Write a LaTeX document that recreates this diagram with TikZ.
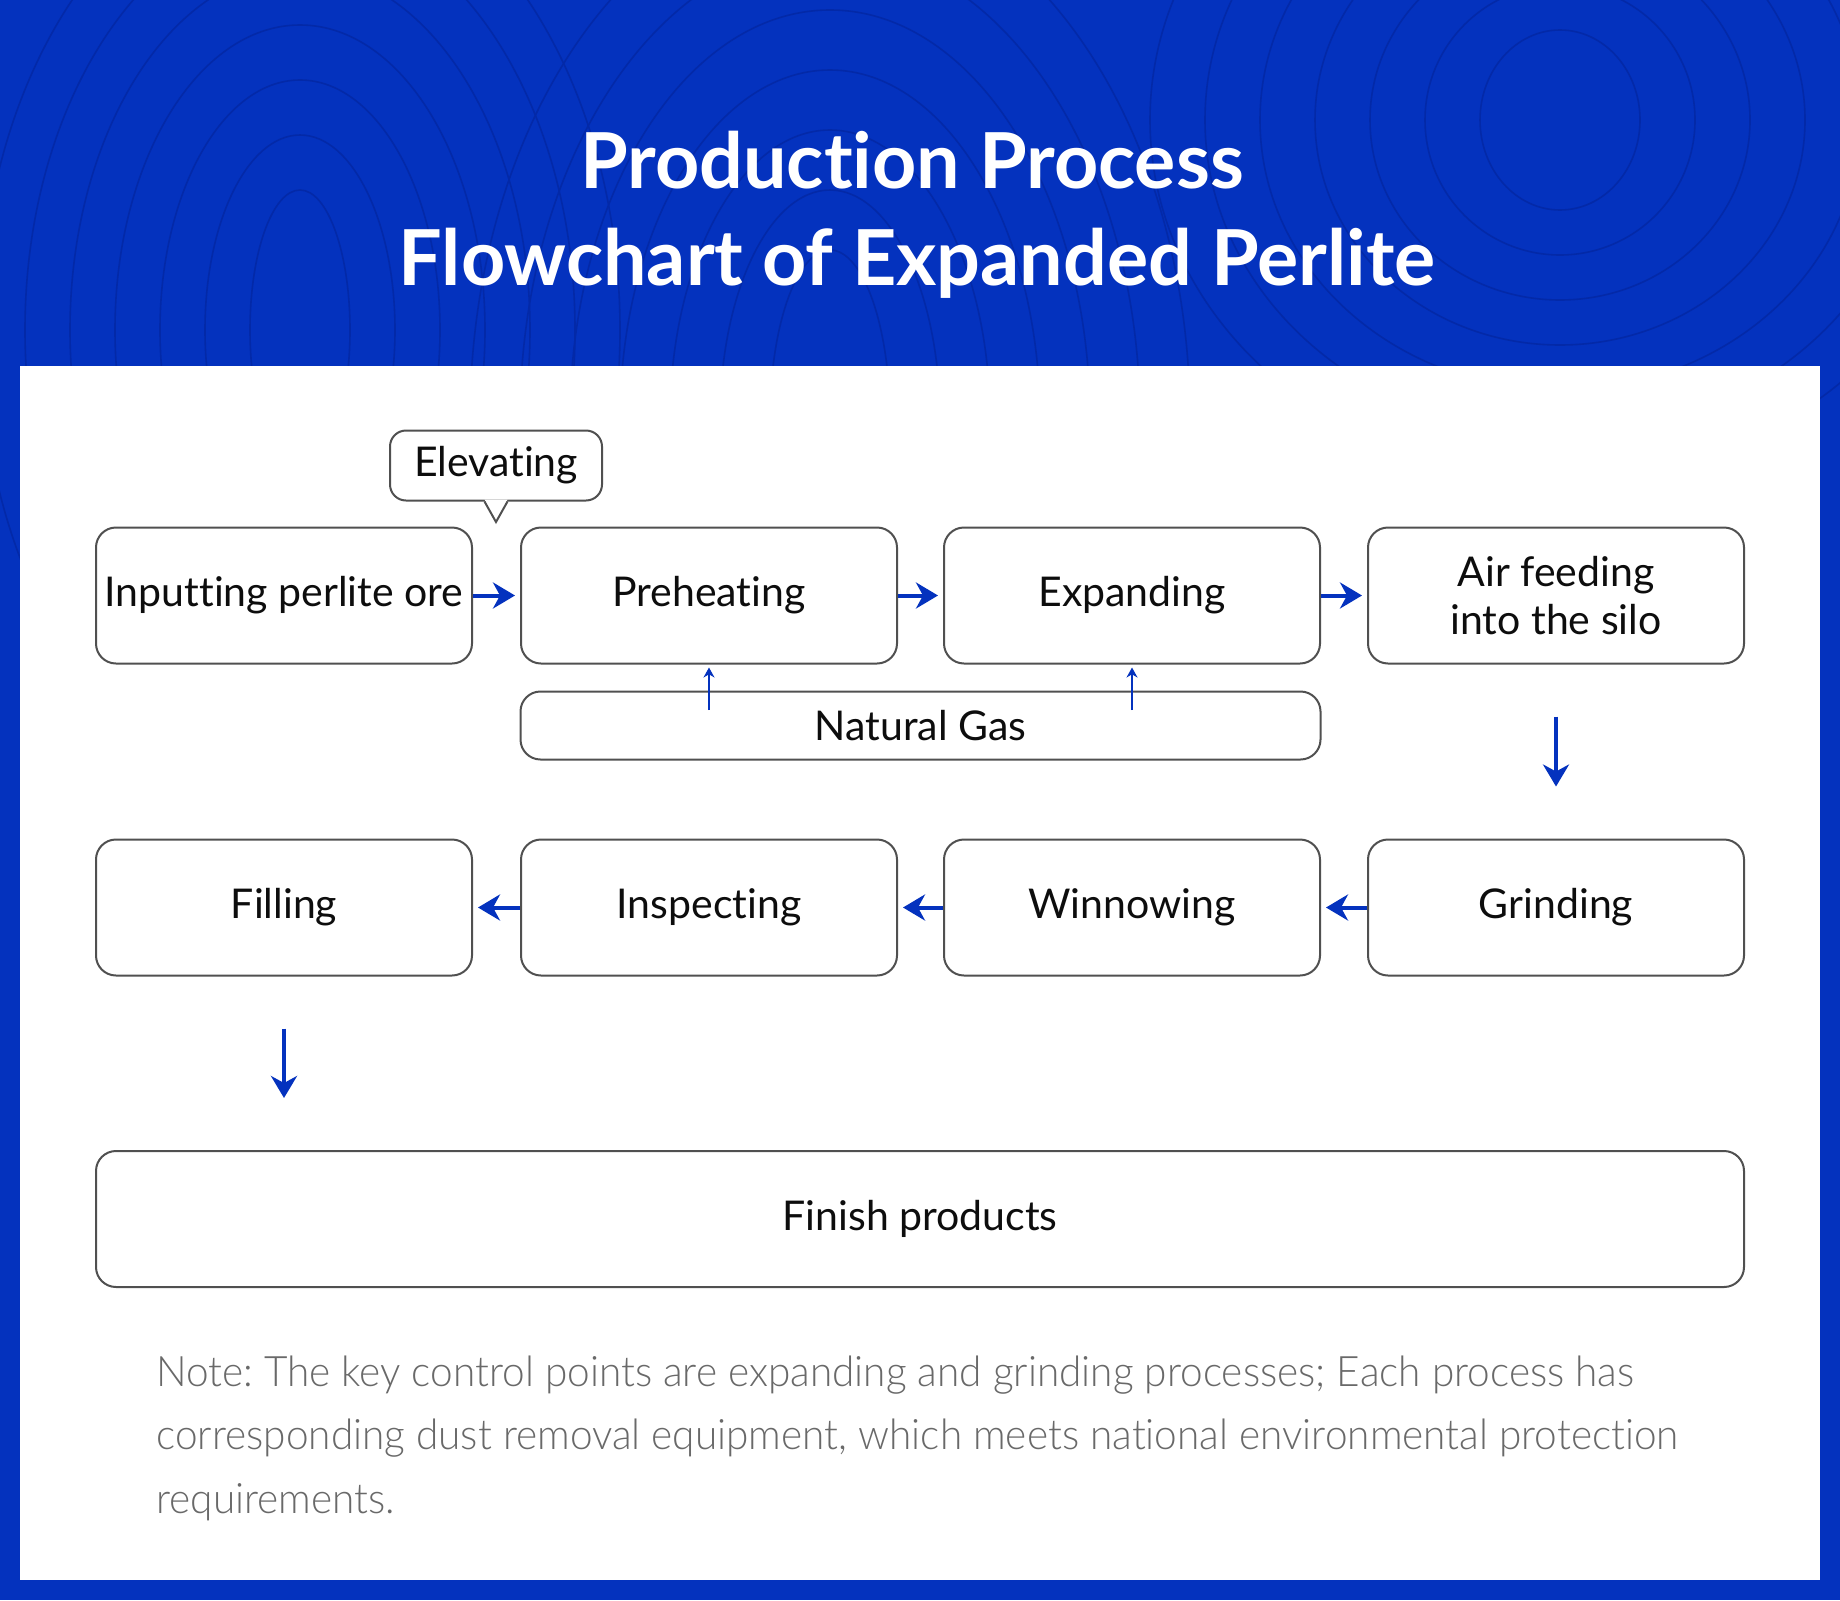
\documentclass[tikz,border=0pt]{standalone}
\usepackage{fontspec}
\setmainfont{Lato}[Ligatures={NoCommon,NoContextual,NoRequired}, Contextuals=NoAlternate]
\newfontfamily\notefont{Lato Light}[FakeStretch=0.965, Ligatures={NoCommon,NoContextual,NoRequired}, Contextuals=NoAlternate]
\usetikzlibrary{arrows.meta, positioning, calc}
\definecolor{brandblue}{RGB}{4,50,190}
\definecolor{contourblue}{RGB}{3,41,168}
\definecolor{boxgray}{RGB}{80,80,80}
\definecolor{notegray}{RGB}{105,105,105}
\frenchspacing
\tikzset{
    procbox/.style={draw=boxgray, line width=1pt, rounded corners=10pt, fill=white,
        minimum width=188pt, minimum height=68pt, inner sep=0pt, align=center,
        font=\fontsize{20.5}{24}\selectfont, text=black!95},
    gasbox/.style={procbox, minimum width=400pt, minimum height=34pt},
    calloutbox/.style={procbox, rounded corners=8pt, minimum width=106pt, minimum height=35pt},
    flowarr/.style={brandblue, line width=2pt, -{Stealth[length=11pt,width=13pt,inset=3.5pt]}},
    gasarr/.style={brandblue, line width=1.2pt, -{Stealth[length=5pt,width=5.5pt]}},
    contour/.style={contourblue, line width=0.8pt},
    titletext/.style={text=white, inner sep=0pt, font=\fontsize{38.6}{46}\selectfont\bfseries},
    notetext/.style={text=notegray, inner sep=0pt, font=\notefont\fontsize{21}{31.5}\selectfont}
}
\begin{document}
\begin{tikzpicture}[x=0.5pt, y=-0.5pt]
    \useasboundingbox (0,0) rectangle (1840,1600);
    % background and contour lines
    \fill[brandblue] (0,0) rectangle (1840,1600);
    \begin{scope}
    \clip (0,0) rectangle (1840,1600);
    \foreach \k in {0,...,6}{
        \draw[contour] (300,330) ellipse ({50+45*\k} and {140+55*\k});
        \draw[contour] (830,420) ellipse ({60+50*\k} and {170+60*\k});
        \draw[contour] (1560,120) ellipse ({80+55*\k} and {90+45*\k});
    }
    \end{scope}
    \fill[white] (20,366) rectangle (1820,1580);

    % title
    \node[titletext, anchor=base] (title1) at (912,188) {Production Process};
    \node[titletext, anchor=base] (title2) at (917,285) {Flowchart of Expanded Perlite};

    % first row
    \node[procbox] (in1)  at (284,595.5)  {Inputting perlite ore};
    \node[procbox] (preh) at (709,595.5)  {Preheating};
    \node[procbox] (expd) at (1132,595.5) {Expanding};
    \node[procbox] (air)  at (1556,595.5) {Air feeding\\into the silo};
    \node[gasbox]  (gas)  at (920.5,725.5) {Natural Gas};

    % second row
    \node[procbox] (filling) at (284,907.5)  {Filling};
    \node[procbox] (insp)    at (709,907.5)  {Inspecting};
    \node[procbox] (winn)    at (1132,907.5) {Winnowing};
    \node[procbox] (grind)   at (1556,907.5) {Grinding};
    \node[procbox, minimum width=824pt] (finish) at (920,1219) {Finish products};

    % callout
    \node[calloutbox] (elev) at (496,465.5) {Elevating};
    \coordinate (elevtip) at (496,522);
    \fill[white] ($(elev.south)+(-11.5,-2)$) -- (elevtip) -- ($(elev.south)+(11.5,-2)$) -- cycle;
    \draw[boxgray, line width=1pt] ($(elev.south)+(-11.5,0)$) -- (elevtip) -- ($(elev.south)+(11.5,0)$);

    % arrows
    \draw[flowarr, shorten >=2.5pt] (in1.east) -- (preh.west);
    \draw[flowarr, shorten >=2.5pt] (preh.east) -- (expd.west);
    \draw[flowarr, shorten >=2.5pt] (expd.east) -- (air.west);
    \draw[flowarr, shorten <=26pt, shorten >=26pt] (air.south) -- (grind.north);
    \draw[flowarr, shorten >=2.5pt] (grind.west) -- (winn.east);
    \draw[flowarr, shorten >=2.5pt] (winn.west) -- (insp.east);
    \draw[flowarr, shorten >=2.5pt] (insp.west) -- (filling.east);
    \draw[flowarr, shorten <=26pt, shorten >=26pt] (filling.south) -- (filling.south |- finish.north);

    \coordinate (gasin) at (709,710);
    \draw[gasarr, shorten >=1.5pt] (preh.south |- gasin) -- (preh.south);
    \draw[gasarr, shorten >=1.5pt] (expd.south |- gasin) -- (expd.south);

    % note
    \node[notetext, anchor=base west] (note1) at (156,1386) {Note: The key control points are expanding and grinding processes; Each process has};
    \node[notetext, anchor=base west] (note2) at (156,1449) {corresponding dust removal equipment, which meets national environmental protection};
    \node[notetext, anchor=base west] (note3) at (156,1513) {requirements.};
\end{tikzpicture}
\end{document}
